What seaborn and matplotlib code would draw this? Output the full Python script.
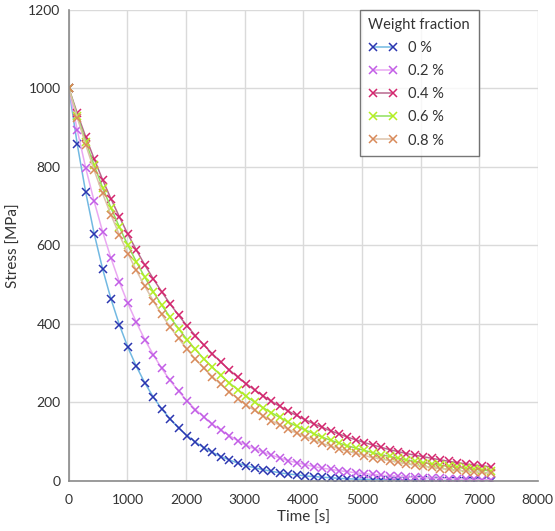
import matplotlib
matplotlib.use("Agg")
import numpy as np
import pandas as pd
import seaborn as sns
import matplotlib.pyplot as plt
import matplotlib.ticker as ticker

# time steps [s]
time_s = [0, 144, 288, 432, 576, 720, 864, 1008, 1152, 1296,
          1440, 1584, 1728, 1872, 2016, 2160, 2304, 2448, 2592, 2736,
          2880, 3024, 3168, 3312, 3456, 3600, 3744, 3888, 4032, 4176,
          4320, 4464, 4608, 4752, 4896, 5040, 5184, 5328, 5472, 5616,
          5760, 5904, 6048, 6192, 6336, 6480, 6624, 6768, 6912, 7056, 7200]

# stress [MPa]
stress_0 = [1000, 857, 735, 630, 540, 463, 397, 340, 292, 250,
            214, 184, 158, 135, 116, 99, 85, 73, 62.5, 54,
            46, 39, 34, 29, 25, 21, 18, 16, 13, 11.5,
            10, 8.5, 7, 6, 5, 4.6, 4, 3.4, 3, 2.5,
            2, 1.8, 1.5, 1.3, 1.1, 1, 0.8, 0.7, 0.6, 0.5, 0.5]
stress_02 = [1000, 893, 797, 712, 635, 567, 506, 452, 404, 360,
             322, 287, 256, 229, 204, 182, 163, 145, 130, 116,
             103, 92, 82, 74, 66, 59, 52, 47, 42, 37,
             33, 30, 26.5, 24, 21, 19, 17, 15, 13.4, 12,
             10.7, 9.6, 8.5, 7.6, 6.8, 6.1, 5.4, 4.8, 4.3, 3.9, 3.5]
stress_04 = [1000, 936, 876, 820, 767, 718, 672, 628, 588, 550,
             515, 482, 451, 422, 395, 370, 346, 324, 303, 283,
             265, 248, 232, 217, 203, 190, 178, 167, 156, 146,
             137, 128, 120, 112, 105, 98, 92, 86, 80, 75,
             70, 66, 62, 58, 54, 50.5, 47, 44, 41, 39, 36]
stress_06 = [1000, 930, 864, 804, 747, 695, 646, 600, 558, 519,
             482, 448, 417, 388, 360, 335, 311, 290, 269, 250,
             233, 216, 201, 187, 174, 162, 150, 140, 130, 121,
             112, 104, 97, 90, 84, 78, 72.5, 67, 63, 58,
             54, 50, 47, 43.5, 40.5, 37.6, 35, 32.5, 30, 28, 26]
stress_08 = [1000, 925, 856, 791, 732, 677, 626, 579, 536, 496,
             459, 424, 392, 363, 336, 310, 287, 266, 246, 227,
             210, 194, 180, 166, 154, 142, 132, 122, 113, 104,
             96, 89, 82.5, 76, 70.6, 65, 60, 56, 52, 48,
             44, 41, 38, 35, 32, 30, 27.7, 25.6, 23.7, 22, 20]

labels = ["0 %", "0.2 %", "0.4 %", "0.6 %", "0.8 %"]
series = [stress_0, stress_02, stress_04, stress_06, stress_08]
line_colors = ["#72b9e2", "#eaa8f2", "#b8688e", "#90e05c", "#dcc2aa"]
marker_colors = ["#2b36b0", "#c25ee6", "#d4266e", "#b6ee22", "#d98a5a"]

sns.set_style("white")
plt.rcParams["font.family"] = ["Lato", "DejaVu Sans"]

fig = plt.figure(figsize=(5.55, 5.31), dpi=100)
ax = fig.add_axes([0.124, 0.094, 0.845, 0.888])

for lab, vals, lc, mc in zip(labels, series, line_colors, marker_colors):
    df = pd.DataFrame({"time": time_s, "stress": vals})
    sns.lineplot(data=df, x="time", y="stress", ax=ax, color=lc, lw=1.1,
                 marker="x", markersize=6, mec=mc, mew=1.1, label=lab)

ax.set_xlim(0, 8000)
ax.set_ylim(0, 1200)
ax.xaxis.set_major_locator(ticker.MultipleLocator(1000))
ax.yaxis.set_major_locator(ticker.MultipleLocator(200))
ax.grid(True, color="#dadada", lw=1)
ax.set_axisbelow(True)

for side in ["top", "right"]:
    ax.spines[side].set_visible(False)
for side in ["left", "bottom"]:
    ax.spines[side].set_color("#8a8a8a")
    ax.spines[side].set_linewidth(1.2)

ax.tick_params(axis="both", direction="in", length=4, width=1,
               color="#8a8a8a", labelsize=10, labelcolor="#333333")
ax.tick_params(axis="x", pad=9)
ax.tick_params(axis="y", pad=6)
ax.set_xlabel("Time [s]", fontsize=11, color="#333333", labelpad=4)
ax.set_ylabel("Stress [MPa]", fontsize=11, color="#333333", labelpad=5)

leg = ax.legend(title="Weight fraction", loc="upper left",
                bbox_to_anchor=(0.62, 1.0), borderaxespad=0, numpoints=2,
                fontsize=10.5, title_fontsize=10.5, frameon=True,
                fancybox=False, alignment="left", handlelength=2.0,
                borderpad=0.6, labelspacing=0.62, handletextpad=0.7)
leg.get_frame().set_edgecolor("#555555")
leg.get_frame().set_linewidth(1.0)
for t in leg.get_texts():
    t.set_color("#333333")
leg.get_title().set_color("#333333")

fig.savefig("out.png", dpi=100)
